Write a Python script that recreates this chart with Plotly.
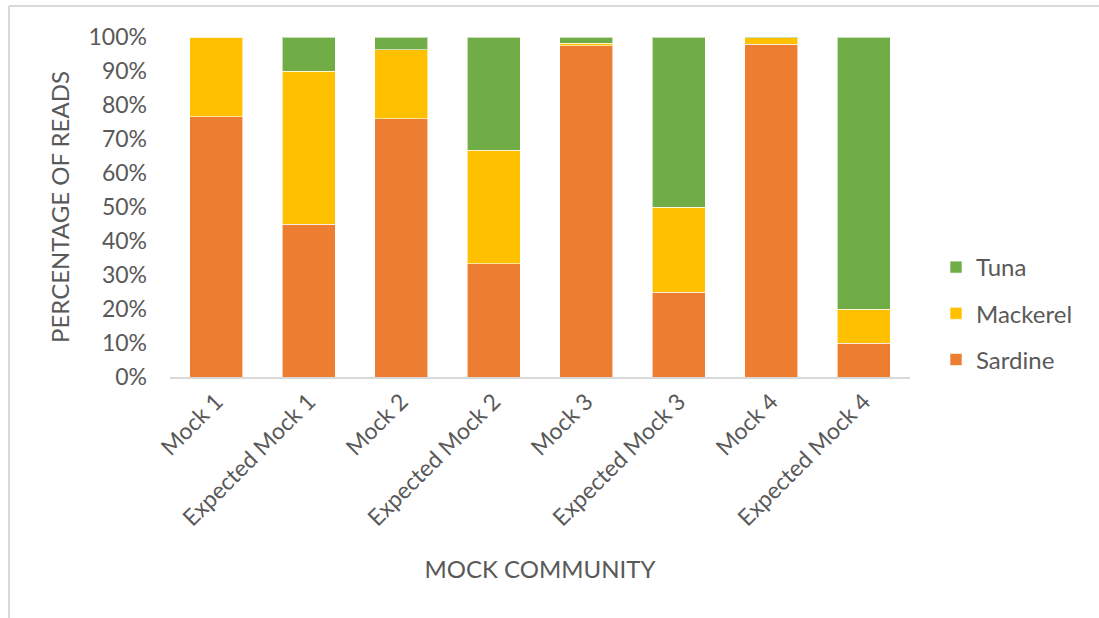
import plotly.graph_objects as go

categories = ["Mock 1", "Expected Mock 1", "Mock 2", "Expected Mock 2",
              "Mock 3", "Expected Mock 3", "Mock 4", "Expected Mock 4"]
sardine = [0.765, 0.45, 0.76, 0.3333, 0.974, 0.25, 0.978, 0.10]
mackerel = [0.235, 0.45, 0.202, 0.3333, 0.007, 0.25, 0.020, 0.10]
tuna = [0.0, 0.10, 0.038, 0.3334, 0.019, 0.50, 0.002, 0.80]
y_ticks = [0, 0.1, 0.2, 0.3, 0.4, 0.5, 0.6, 0.7, 0.8, 0.9, 1.0]
y_tick_labels = ["0%", "10%", "20%", "30%", "40%", "50%", "60%", "70%", "80%", "90%", "100%"]

FONT = "Lato"
GRAY = "#595959"

fig = go.Figure()
for rank, (name, vals, col) in zip([3, 2, 1], [("Sardine", sardine, "#ED7D31"),
                                              ("Mackerel", mackerel, "#FFC000"),
                                              ("Tuna", tuna, "#70AD47")]):
    fig.add_trace(go.Bar(x=categories, y=vals, name=name, legendgroup=name, legendrank=rank,
                         marker=dict(color=col, line=dict(color="rgba(255,255,255,0.6)", width=1))))

L, R, T, B = 170, 189, 37, 241
W, H = 1099, 618
pw = W - L - R
ph = H - T - B

def px2x(px):
    return (px - L) / pw

def py2y(py):
    return (H - B - py) / ph

fig.update_layout(
    width=W, height=H,
    margin=dict(l=L, r=R, t=T, b=B, autoexpand=False),
    barmode="stack", bargap=0.43,
    paper_bgcolor="white", plot_bgcolor="white",
    font=dict(family=FONT, color=GRAY, size=23),
    xaxis=dict(showgrid=False, showline=True, linecolor="#d9d9d9", linewidth=2,
               tickangle=-45, tickfont=dict(size=23, color=GRAY), ticks="",
               title=dict(text="MOCK COMMUNITY", font=dict(size=24, color=GRAY), standoff=31)),
    yaxis=dict(range=[0, 1.0], tickvals=y_ticks, ticktext=y_tick_labels,
               showgrid=False, zeroline=False, showline=False, ticks="",
               tickfont=dict(size=23, color=GRAY), ticklabelstandoff=22,
               title=dict(text="PERCENTAGE OF READS", font=dict(size=24, color=GRAY), standoff=12)),
    legend=dict(x=px2x(936), y=py2y(245), xanchor="left", yanchor="top",
                traceorder="grouped", tracegroupgap=12,
                font=dict(size=24, color=GRAY), itemwidth=30),
    showlegend=True,
    shapes=[
        dict(type="line", xref="paper", yref="paper", x0=px2x(9), x1=px2x(1099),
             y0=py2y(6), y1=py2y(6), line=dict(color="#d9d9d9", width=2)),
        dict(type="line", xref="paper", yref="paper", x0=px2x(9), x1=px2x(9),
             y0=py2y(6), y1=py2y(618), line=dict(color="#d9d9d9", width=2)),
    ],
)

fig.write_html("out.html")
